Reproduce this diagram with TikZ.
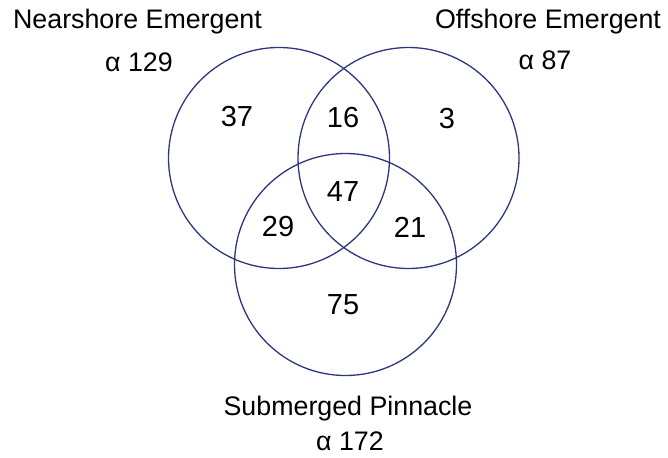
\documentclass[tikz,border=0pt]{standalone}
\usepackage{fontspec}
\setmainfont{Liberation Sans}
\definecolor{ringblue}{RGB}{45,55,125}
\begin{document}
\begin{tikzpicture}[x=1pt,y=-1pt,
  ring/.style={draw=ringblue,line width=1.3pt},
  count/.style={font=\fontsize{29}{32}\selectfont,inner sep=0pt},
  setname/.style={font=\fontsize{26.8}{30}\selectfont,inner sep=0pt}]
\useasboundingbox (0,0) rectangle (668,457);
% the three sets
\draw[ring] (279,158) circle[radius=110.5];
\draw[ring] (408.5,158) circle[radius=110.5];
\draw[ring] (345.5,264.5) circle[radius=111];
% region counts
\node[count] (n37) at (237,117) {37};
\node[count] (n16) at (343,118) {16};
\node[count] (n3)  at (447,119) {3};
\node[count] (n47) at (343,192) {47};
\node[count] (n29) at (278,227) {29};
\node[count] (n21) at (410,227) {21};
\node[count] (n75) at (343,305) {75};
% set labels
\node[setname] (near)  at (137.5,22) {Nearshore Emergent};
\node[setname] (neara) at (139,62) {α 129};
\node[setname] (off)   at (548,22) {Offshore Emergent};
\node[setname] (offa)  at (545,60) {α 87};
\node[setname] (sub)   at (348,409) {Submerged Pinnacle};
\node[setname] (suba)  at (350,441) {α 172};
\end{tikzpicture}
\end{document}
